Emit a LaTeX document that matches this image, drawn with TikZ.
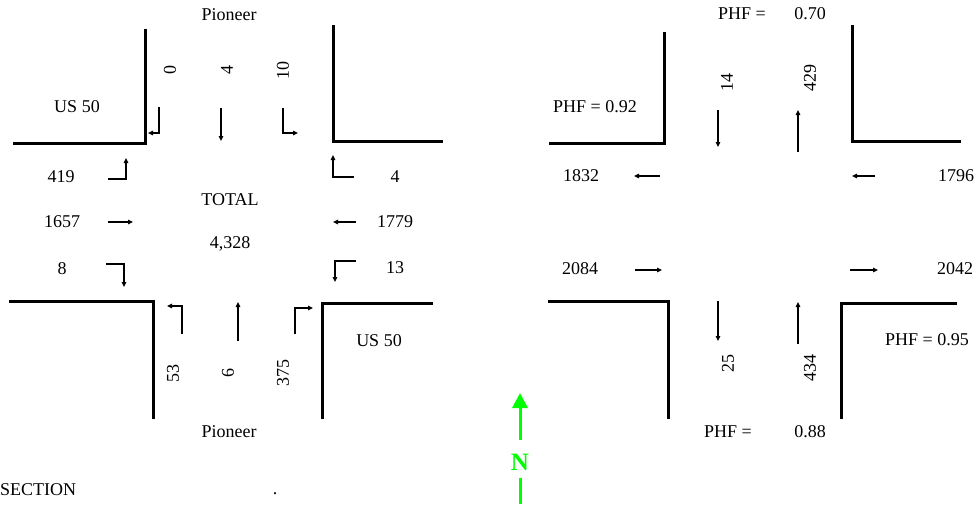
\documentclass[tikz,border=0pt]{standalone}
\usepackage{fontspec}
\setmainfont{Liberation Serif}
\usepackage{tikz}
\usetikzlibrary{arrows.meta}
\definecolor{northgreen}{RGB}{0,255,0}
\tikzset{
  curb/.style ={line width=3pt, line join=miter},
  mv/.style   ={-{Triangle[length=5pt,width=4.5pt]}, line width=1.3pt},
  lbl/.style  ={font=\fontsize{18}{20}\selectfont, inner sep=0pt},
  vlbl/.style ={lbl, rotate=90},
  narr/.style ={northgreen, line width=3pt},
}

\begin{document}
\begin{tikzpicture}[x=1pt, y=-1pt]
  \useasboundingbox (0,0) rectangle (976,504);

  % --- all-movement counts, Pioneer / US 50
  \node[lbl] (pio-n) at (229,15)  {Pioneer};
  \node[lbl] (pio-s) at (229,432) {Pioneer};
  \node[lbl] (us-w)  at (77,107)  {US 50};
  \node[lbl] (us-e)  at (379,341) {US 50};
  \node[lbl] (tot)   at (230,200) {TOTAL};
  \node[lbl] (totv)  at (230,244) {4,328};

  \draw[curb] (145,29) -- (145,143) -- (13,143);
  \draw[curb] (333,25) -- (333,141) -- (443,141);
  \draw[curb] (9,301) -- (153,301) -- (153,419);
  \draw[curb] (433,303) -- (322,303) -- (322,419);

  % southbound
  \node[vlbl] (sbl) at (170,70) {0};
  \node[vlbl] (sbt) at (227,70) {4};
  \node[vlbl] (sbr) at (283,70) {10};
  \draw[mv] (159,107) -- (159,133) -- (148,133);
  \draw[mv] (221,108) -- (221,141);
  \draw[mv] (283,108) -- (283,133) -- (298,133);

  % eastbound
  \node[lbl] (ebl) at (61,177) {419};
  \node[lbl] (ebt) at (62,222) {1657};
  \node[lbl] (ebr) at (62,269) {8};
  \draw[mv] (108,179) -- (126,179) -- (126,158);
  \draw[mv] (108,222) -- (133,222);
  \draw[mv] (106,264) -- (124,264) -- (124,287);

  % northbound
  \node[vlbl] (nbl) at (173,373) {53};
  \node[vlbl] (nbt) at (228,373) {6};
  \node[vlbl] (nbr) at (283,373) {375};
  \draw[mv] (182,334) -- (182,306) -- (167,306);
  \draw[mv] (238,341) -- (238,302);
  \draw[mv] (295,334) -- (295,308) -- (313,308);

  % westbound
  \node[lbl] (wbl) at (395,177) {4};
  \node[lbl] (wbt) at (395,222) {1779};
  \node[lbl] (wbr) at (395,268) {13};
  \draw[mv] (354,177) -- (333,177) -- (333,155);
  \draw[mv] (356,222) -- (333,222);
  \draw[mv] (356,261) -- (335,261) -- (335,282);

  % --- approach volumes and PHF
  \node[lbl] (phf-n)  at (742,14)  {PHF =};
  \node[lbl] (phf-nv) at (810,14)  {0.70};
  \node[lbl] (phf-s)  at (728,432) {PHF =};
  \node[lbl] (phf-sv) at (810,432) {0.88};
  \node[lbl] (phf-w)  at (595,107) {PHF = 0.92};
  \node[lbl] (phf-e)  at (927,340) {PHF = 0.95};

  \draw[curb] (664,32) -- (664,143) -- (549,143);
  \draw[curb] (852,25) -- (852,141) -- (961,141);
  \draw[curb] (548,301) -- (668,301) -- (668,419);
  \draw[curb] (957,303) -- (841,303) -- (841,419);

  \node[vlbl] (vn-in)  at (727,82)  {14};
  \node[vlbl] (vn-out) at (810,78)  {429};
  \node[vlbl] (vs-out) at (728,363) {25};
  \node[vlbl] (vs-in)  at (810,368) {434};
  \node[lbl]  (vw-out) at (581,176) {1832};
  \node[lbl]  (ve-in)  at (956,176) {1796};
  \node[lbl]  (vw-in)  at (580,269) {2084};
  \node[lbl]  (ve-out) at (955,269) {2042};
  \draw[mv] (718,110) -- (718,147);
  \draw[mv] (798,152) -- (798,110);
  \draw[mv] (718,301) -- (718,341);
  \draw[mv] (798,344) -- (798,302);
  \draw[mv] (660,176) -- (634,176);
  \draw[mv] (875,176) -- (852,176);
  \draw[mv] (635,270) -- (662,270);
  \draw[mv] (850,270) -- (878,270);

  % north arrow
  \node[lbl, text=northgreen, font=\fontsize{25}{28}\selectfont\bfseries]
        (north) at (520,462) {N};
  \draw[narr, -{Triangle[length=15pt,width=15pt]}] (520,440) -- (520,393);
  \draw[narr] (520,478) -- (520,504);

  \node[lbl, anchor=west] (sect) at (0,490) {SECTION};
  \node[lbl] (dot) at (275,494) {.};
\end{tikzpicture}
\end{document}
